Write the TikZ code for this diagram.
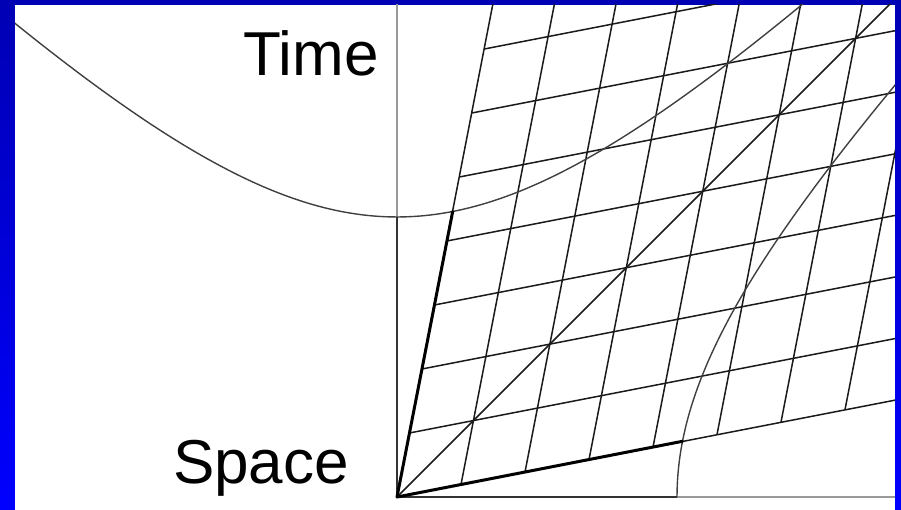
\documentclass[tikz,border=0pt]{standalone}
\usepackage{fontspec}
\setmainfont{Liberation Sans}
\definecolor{frameblue}{HTML}{0000FF}
\definecolor{framedark}{HTML}{0000B4}
\definecolor{inkgrey}{HTML}{1A1A1A}

\begin{document}
\begin{tikzpicture}[x=1pt,y=1pt,
  gridline/.style={inkgrey,line width=1.5pt},
  boldline/.style={black,line width=3pt,line cap=round},
  curveline/.style={black!75,line width=1.4pt},
  axisdark/.style={black!80,line width=1.8pt},
  axislight/.style={black!40,line width=1.5pt},
  axislabel/.style={font=\fontsize{62}{62}\selectfont,anchor=base east,inner sep=0pt}]
% blue frame and white sheet
\shade[top color=framedark,bottom color=frameblue] (-397,-13) rectangle (504,497);
\fill[white] (-382,-13) rectangle (498,492);
\useasboundingbox (-397,-13) rectangle (504,497);
\coordinate (O) at (0,0);
\coordinate (T1) at (55.7,285.5);
\coordinate (X1) at (285.5,55.7);
\coordinate (Tv) at (0,280);
\coordinate (Xv) at (280,0);
\begin{scope}
\clip (-382,-13) rectangle (498,492);
% rest axes
\draw[axislight] (Tv) -- (0,497);
\draw[axislight] (Xv) -- (498,0);
% moving grid
\foreach \i in {1,...,7}
  \draw[gridline] ({\i*64},{\i*12.48}) -- ++(112,576);
\foreach \j in {1,...,7}
  \draw[gridline] ({\j*12.48},{\j*64}) -- ++(576,112);
\draw[gridline] (O) -- (112,576);
\draw[gridline] (O) -- (576,112);
% light cone
\draw[gridline] (O) -- (520,520);
% hyperbolas
\draw[curveline] plot[domain=-1.2:1.25,samples=90,smooth] ({280*sinh(\x)},{280*cosh(\x)});
\draw[curveline] plot[domain=0:1.25,samples=60,smooth] ({280*cosh(\x)},{280*sinh(\x)});
\end{scope}
\draw[axisdark] (O) -- (Tv);
\draw[axisdark] (O) -- (Xv);
\draw[boldline] (O) -- (T1);
\draw[boldline] (O) -- (X1);
\node[axislabel] (time) at (-18,421) {Time};
\node[axislabel] (space) at (-48,13) {Space};
\end{tikzpicture}
\end{document}
